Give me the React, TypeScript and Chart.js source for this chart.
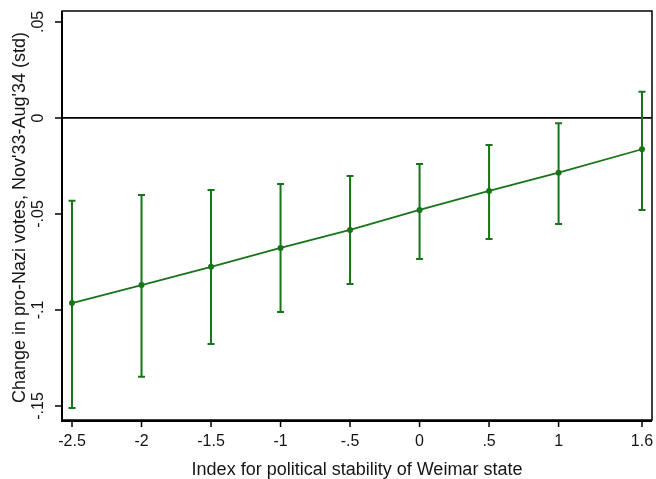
import React, { useEffect, useRef } from "react";
import { Chart, registerables } from "chart.js";

Chart.register(...registerables);

// ---- data ----
const xValues = [-2.5, -2, -1.5, -1, -0.5, 0, 0.5, 1, 1.6];
const estimates = [-0.0964, -0.087, -0.0775, -0.0677, -0.0583, -0.0479, -0.038, -0.0285, -0.0163];
const ciHigh = [-0.0431, -0.0401, -0.0375, -0.0344, -0.0302, -0.024, -0.0141, -0.0028, 0.0137];
const ciLow = [-0.1511, -0.1348, -0.1177, -0.1011, -0.0865, -0.0734, -0.063, -0.0552, -0.0479];

const xTicks = [-2.5, -2, -1.5, -1, -0.5, 0, 0.5, 1, 1.6];
const xTickLabels = ["-2.5", "-2", "-1.5", "-1", "-.5", "0", ".5", "1", "1.6"];
const yTicks = [0.05, 0, -0.05, -0.1, -0.15];
const yTickLabels = [".05", "0", "-.05", "-.1", "-.15"];

const xTitle = "Index for political stability of Weimar state";
const yTitle = "Change in pro-Nazi votes, Nov'33-Aug'34 (std)";

const GREEN = "rgb(24,116,24)";
const TEXT = "#151515";
const FONT = '"Liberation Sans", Arial, sans-serif';

const decorPlugin = {
  id: "decor",
  beforeDraw(chart: any) {
    const { ctx, width, height } = chart;
    ctx.save();
    ctx.fillStyle = "#fff";
    ctx.fillRect(0, 0, width, height);
    ctx.restore();
  },
  beforeDatasetsDraw(chart: any) {
    const { ctx, chartArea } = chart;
    const xs = chart.scales.x;
    const ys = chart.scales.y;
    ctx.save();
    // zero reference line
    const y0 = ys.getPixelForValue(0);
    ctx.strokeStyle = "#000";
    ctx.lineWidth = 1.8;
    ctx.beginPath();
    ctx.moveTo(chartArea.left, y0);
    ctx.lineTo(chartArea.right, y0);
    ctx.stroke();
    // error bars
    ctx.strokeStyle = GREEN;
    ctx.lineWidth = 2;
    const cap = 3.5;
    xValues.forEach((xv, i) => {
      const px = xs.getPixelForValue(xv);
      const hi = ys.getPixelForValue(ciHigh[i]);
      const lo = ys.getPixelForValue(ciLow[i]);
      ctx.beginPath();
      ctx.moveTo(px, hi);
      ctx.lineTo(px, lo);
      ctx.moveTo(px - cap, hi);
      ctx.lineTo(px + cap, hi);
      ctx.moveTo(px - cap, lo);
      ctx.lineTo(px + cap, lo);
      ctx.stroke();
    });
    ctx.restore();
  },
  afterDraw(chart: any) {
    const { ctx, chartArea } = chart;
    const xs = chart.scales.x;
    const ys = chart.scales.y;
    const { left, right, top, bottom } = chartArea;
    ctx.save();
    // frame
    ctx.strokeStyle = "#000";
    ctx.lineWidth = 1.5;
    ctx.strokeRect(left, top, right - left, bottom - top);
    ctx.lineWidth = 2;
    ctx.beginPath();
    ctx.moveTo(left, top);
    ctx.lineTo(left, bottom + 1);
    ctx.lineTo(right, bottom + 1);
    ctx.stroke();
    // ticks
    ctx.lineWidth = 1.5;
    ctx.beginPath();
    yTicks.forEach((v) => {
      const py = ys.getPixelForValue(v);
      ctx.moveTo(left - 7, py);
      ctx.lineTo(left, py);
    });
    xTicks.forEach((v) => {
      const px = xs.getPixelForValue(v);
      ctx.moveTo(px, bottom);
      ctx.lineTo(px, bottom + 7);
    });
    ctx.stroke();
    // tick labels
    ctx.fillStyle = TEXT;
    ctx.font = `16px ${FONT}`;
    ctx.textAlign = "center";
    ctx.textBaseline = "middle";
    xTicks.forEach((v, i) => {
      const px = xs.getPixelForValue(v);
      ctx.fillText(xTickLabels[i], px, bottom + 22);
    });
    yTicks.forEach((v, i) => {
      const py = ys.getPixelForValue(v);
      ctx.save();
      ctx.translate(left - 23, py);
      ctx.rotate(-Math.PI / 2);
      ctx.fillText(yTickLabels[i], 0, 0);
      ctx.restore();
    });
    // titles
    ctx.font = `18px ${FONT}`;
    ctx.fillText(xTitle, (left + right) / 2, bottom + 50);
    ctx.save();
    ctx.translate(20, (top + bottom) / 2 + 2);
    ctx.rotate(-Math.PI / 2);
    ctx.fillText(yTitle, 0, 0);
    ctx.restore();
    ctx.restore();
  },
};

export default function App() {
  const ref = useRef<HTMLCanvasElement | null>(null);
  useEffect(() => {
    document.body.style.margin = "0";
    if (!ref.current) return;
    const chart = new Chart(ref.current, {
      type: "line",
      data: {
        datasets: [
          {
            data: xValues.map((x, i) => ({ x, y: estimates[i] })),
            borderColor: GREEN,
            backgroundColor: GREEN,
            borderWidth: 1.8,
            pointRadius: 3,
            pointBackgroundColor: GREEN,
            pointBorderColor: GREEN,
            pointBorderWidth: 0,
            tension: 0,
          },
        ],
      },
      options: {
        animation: false,
        responsive: false,
        layout: { padding: { left: 62, right: 3, top: 11, bottom: 59 } },
        plugins: { legend: { display: false }, tooltip: { enabled: false } },
        scales: {
          x: { type: "linear", min: -2.572, max: 1.672, display: false },
          y: { type: "linear", min: -0.1573, max: 0.0557, display: false },
        },
      },
      plugins: [decorPlugin],
    });
    return () => chart.destroy();
  }, []);
  return (
    <div style={{ width: 656, height: 479 }}>
      <canvas ref={ref} width={656} height={479} />
    </div>
  );
}
